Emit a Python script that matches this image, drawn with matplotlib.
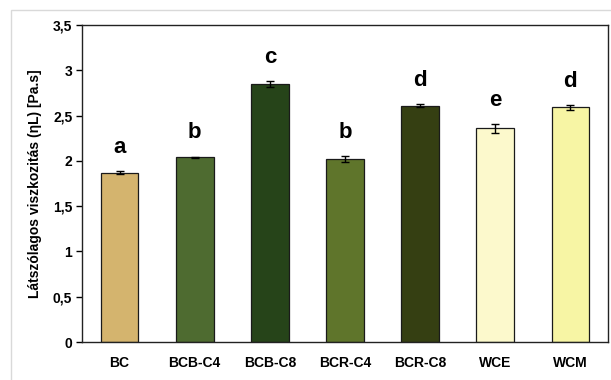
import matplotlib
matplotlib.use("Agg")
import matplotlib.pyplot as plt
from matplotlib.patches import Rectangle

categories = ["BC", "BCB-C4", "BCB-C8", "BCR-C4", "BCR-C8", "WCE", "WCM"]
values = [1.87, 2.04, 2.85, 2.02, 2.61, 2.36, 2.59]
errors = [0.02, 0.008, 0.03, 0.03, 0.015, 0.05, 0.025]
letters = ["a", "b", "c", "b", "d", "e", "d"]
colors = ["#D4B46E", "#4E6B30", "#264419", "#5F752B", "#353F12", "#FCF9CC", "#F7F5A4"]
yticks = [0, 0.5, 1, 1.5, 2, 2.5, 3, 3.5]
yticklabels = ["0", "0,5", "1", "1,5", "2", "2,5", "3", "3,5"]

plt.rcParams['font.family'] = ['Liberation Sans', 'DejaVu Sans']

fig = plt.figure(figsize=(6.11, 3.80), dpi=100)
fig.patches.append(Rectangle((11/611, -0.1), 1.2, (380-10)/380 + 0.1, transform=fig.transFigure,
                             fill=False, edgecolor="#d9d9d9", linewidth=1))
ax = fig.add_axes([82/611, 38/380, (608-82)/611, (342-25)/380])
x = list(range(len(categories)))
ax.bar(x, values, width=0.5, color=colors, edgecolor="#1a1a1a", linewidth=0.9, zorder=2)
ax.errorbar(x, values, yerr=errors, fmt="none", ecolor="black", elinewidth=1, capsize=3, capthick=1, zorder=3)
for xi, v, e, l in zip(x, values, errors, letters):
    ax.text(xi, v + e + 0.26, l, ha="center", va="center", fontsize=16, fontweight="bold")
ax.set_xlim(-0.5, 6.5)
ax.set_ylim(0, 3.5)
ax.set_yticks(yticks)
ax.set_yticklabels(yticklabels, fontsize=10, fontweight="bold")
ax.set_xticks(x)
ax.set_xticklabels(categories, fontsize=10, fontweight="bold")
ax.tick_params(axis="x", length=0, pad=10)
ax.tick_params(axis="y", direction="out", length=4, width=1, pad=3)
for s in ax.spines.values():
    s.set_linewidth(1)
    s.set_color("#222222")
ax.set_ylabel("Látszólagos viszkozitás (ηL) [Pa.s]", fontsize=10, fontweight="bold", labelpad=8)
fig.savefig("out.png", dpi=100)
